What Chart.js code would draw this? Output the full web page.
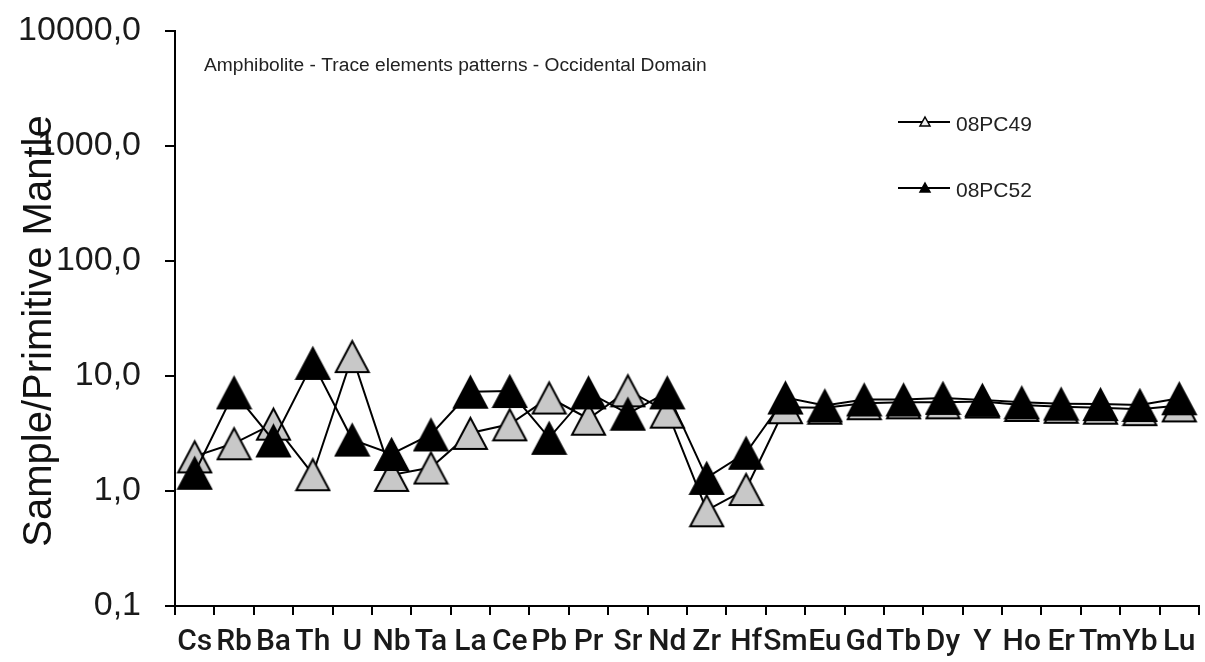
<!DOCTYPE html>
<html>
<head>
<meta charset="utf-8">
<script src="https://cdn.jsdelivr.net/npm/chart.js@4"></script>
<style>
  html, body { margin: 0; padding: 0; background: #fff; }
</style>
</head>
<body>
<canvas id="chart" width="1205" height="662"></canvas>
<script>
// element order of the spider diagram
const elements = ["Cs", "Rb", "Ba", "Th", "U", "Nb", "Ta", "La", "Ce", "Pb", "Pr", "Sr", "Nd",
  "Zr", "Hf", "Sm", "Eu", "Gd", "Tb", "Dy", "Y", "Ho", "Er", "Tm", "Yb", "Lu"];
// normalised values (sample / primitive mantle)
const sample49 = [2.0, 2.6, 3.85, 1.4, 14.9, 1.38, 1.6, 3.2, 3.8, 6.5, 4.25, 7.5, 4.9,
  0.68, 1.04, 5.35, 5.3, 5.8, 5.9, 5.9, 6.0, 5.6, 5.4, 5.3, 5.15, 5.55];
const sample52 = [1.44, 7.2, 2.75, 13.0, 2.8, 2.1, 3.1, 7.3, 7.4, 2.9, 7.2, 4.7, 7.2,
  1.3, 2.15, 6.5, 5.55, 6.25, 6.25, 6.45, 6.2, 5.9, 5.75, 5.7, 5.6, 6.4];
const yTicks = [0.1, 1, 10, 100, 1000, 10000];

const titleText = "Amphibolite - Trace elements patterns - Occidental Domain";
const yTitle = "Sample/Primitive Mantle";
const grayFill = "#c8c8c8";

// big triangle markers like the spreadsheet ones
function makeTriangle(fill, w, h) {
  const c = document.createElement("canvas");
  c.width = w;
  c.height = h;
  const g = c.getContext("2d");
  g.beginPath();
  g.moveTo(w / 2, 3);
  g.lineTo(w - 2, h - 2);
  g.lineTo(2, h - 2);
  g.closePath();
  g.fillStyle = fill;
  g.fill();
  g.lineWidth = 2;
  g.strokeStyle = "#000";
  g.stroke();
  return c;
}
const grayTri = makeTriangle(grayFill, 37, 36);
const blackTri = makeTriangle("#000", 37, 36);

function smallTriangle(ctx, x, y, fill) {
  ctx.beginPath();
  ctx.moveTo(x, y - 5);
  ctx.lineTo(x + 5, y + 4);
  ctx.lineTo(x - 5, y + 4);
  ctx.closePath();
  ctx.fillStyle = fill;
  ctx.fill();
  ctx.lineWidth = 1.5;
  ctx.strokeStyle = "#000";
  ctx.stroke();
}

// title, rotated axis title and legend sit inside / over the axes
const overlayText = {
  id: "overlayText",
  afterDraw(chart) {
    const ctx = chart.ctx;
    ctx.save();
    ctx.fillStyle = "#222";
    ctx.textBaseline = "alphabetic";
    ctx.font = "19.2px 'Liberation Sans', Arial, sans-serif";
    ctx.fillText(titleText, 204, 71);

    // legend
    const rows = [
      { y: 122, fill: "#eee" },
      { y: 188, fill: "#000" }
    ];
    ctx.font = "21px 'Liberation Sans', Arial, sans-serif";
    chart.data.datasets.forEach(function (ds, i) {
      const r = rows[i];
      ctx.beginPath();
      ctx.moveTo(898, r.y);
      ctx.lineTo(950, r.y);
      ctx.lineWidth = 2;
      ctx.strokeStyle = "#000";
      ctx.stroke();
      smallTriangle(ctx, 925, r.y, r.fill);
      ctx.fillStyle = "#222";
      ctx.fillText(ds.label, 956, r.y + 9);
    });

    // y axis title
    ctx.translate(40, 331);
    ctx.rotate(-Math.PI / 2);
    ctx.textAlign = "center";
    ctx.textBaseline = "middle";
    ctx.font = "40px 'Liberation Sans', Arial, sans-serif";
    ctx.fillStyle = "#111";
    ctx.fillText(yTitle, 0, 0);
    ctx.restore();
  }
};

const ctx = document.getElementById("chart").getContext("2d");
new Chart(ctx, {
  type: "line",
  data: {
    labels: elements,
    datasets: [
      {
        label: "08PC49",
        data: sample49,
        borderColor: "#000",
        borderWidth: 2,
        pointStyle: grayTri,
        pointRadius: 10,
        order: 2
      },
      {
        label: "08PC52",
        data: sample52,
        borderColor: "#000",
        borderWidth: 2,
        pointStyle: blackTri,
        pointRadius: 10,
        order: 1
      }
    ]
  },
  options: {
    responsive: false,
    animation: false,
    layout: { autoPadding: false, padding: { left: 10, top: 31, right: 6, bottom: 0 } },
    plugins: {
      legend: { display: false },
      tooltip: { enabled: false }
    },
    scales: {
      x: {
        offset: true,
        grid: { offset: true, drawOnChartArea: false, tickLength: 9, color: "#000", lineWidth: 2 },
        border: { color: "#000", width: 2 },
        ticks: {
          autoSkip: false,
          maxRotation: 0,
          minRotation: 0,
          padding: 9,
          color: "#1a1a1a",
          font: { family: "Roboto, 'Liberation Sans', sans-serif", weight: "500", size: 30 }
        },
        afterFit(scale) {
          scale.height = 56;
          scale.paddingLeft = 0;
          scale.paddingRight = 0;
        }
      },
      y: {
        type: "logarithmic",
        min: 0.1,
        max: 10000,
        afterBuildTicks(scale) {
          scale.ticks = yTicks.map(v => ({ value: v }));
        },
        grid: { drawOnChartArea: false, tickLength: 10, color: "#000", lineWidth: 2 },
        border: { color: "#000", width: 2 },
        ticks: {
          padding: 24,
          color: "#1a1a1a",
          font: { family: "'Liberation Sans', Arial, sans-serif", size: 34 },
          callback: v => Number(v).toFixed(1).replace(".", ",")
        },
        afterFit(scale) {
          scale.width = 165;
          scale.paddingTop = 0;
          scale.paddingBottom = 0;
        }
      }
    }
  },
  plugins: [overlayText]
});
</script>
</body>
</html>
